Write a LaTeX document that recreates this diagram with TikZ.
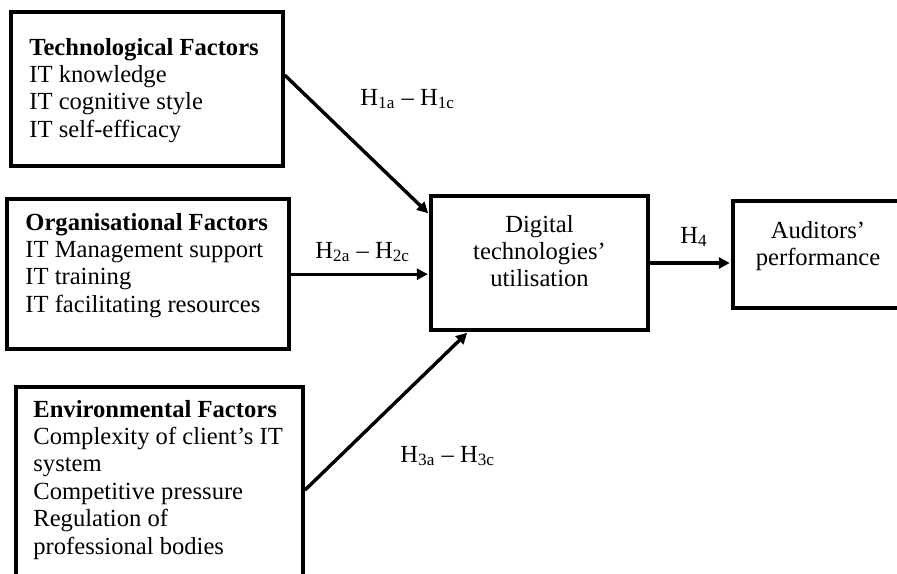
\documentclass[tikz,border=0pt]{standalone}
\usepackage{fontspec}
\setmainfont{Liberation Serif}
\usetikzlibrary{arrows.meta,calc,fit}
\begin{document}
\begin{tikzpicture}[x=0.5pt,y=-0.5pt,
  box/.style={draw, line width=1.8pt, inner sep=0pt},
  conn/.style={line width=1.7pt, -{Triangle[length=5.5pt,width=5.5pt]}, shorten >=0.7pt},
  txt/.style={inner sep=0pt, font=\fontsize{12.3}{13.7}\selectfont},
]
\useasboundingbox (0,0) rectangle (897,573);
\clip (0,0) rectangle (897,573);
% boxes
\node[box, fit={(11,12) (283,166)}] (tech) {};
\node[box, fit={(7,199) (289,349)}] (org) {};
\node[box, fit={(16,387) (303,600)}] (env) {};
\node[box, fit={(431,196) (648,330)}] (dtu) {};
\node[box, fit={(733,201) (905,308)}] (perf) {};
% texts
\node[txt, anchor=base west] (techtxt) at (29,55) {\begin{tabular}[t]{@{}l@{}}\textbf{Technological Factors}\\IT knowledge\\IT cognitive style\\IT self-efficacy\end{tabular}};
\node[txt, anchor=base west] (orgtxt) at (25,230) {\begin{tabular}[t]{@{}l@{}}\textbf{Organisational Factors}\\IT Management support\\IT training\\IT facilitating resources\end{tabular}};
\node[txt, anchor=base west] (envtxt) at (33,417) {\begin{tabular}[t]{@{}l@{}}\textbf{Environmental Factors}\\Complexity of client’s IT\\system\\Competitive pressure\\Regulation of\\professional bodies\end{tabular}};
\node[txt, anchor=base] (dtutxt) at (539.5,232) {\begin{tabular}[t]{@{}c@{}}Digital\\technologies’\\utilisation\end{tabular}};
\node[txt, anchor=base] (perftxt) at (818,238) {\begin{tabular}[t]{@{}c@{}}Auditors’\\performance\end{tabular}};
% labels
\node[txt, anchor=base west] (h1) at (360,105) {H\textsubscript{1a} -- H\textsubscript{1c}};
\node[txt, anchor=base west] (h2) at (315,258) {H\textsubscript{2a} -- H\textsubscript{2c}};
\node[txt, anchor=base west] (h3) at (400,462) {H\textsubscript{3a} -- H\textsubscript{3c}};
\node[txt, anchor=base west] (h4) at (680,243) {H\textsubscript{4}};
% connectors
\draw[conn] ($(tech.north east)+(0,65)$) -- ($(dtu.north west)+(0,20)$);
\draw[conn] ($(org.north east)+(0,77)$) coordinate (o2) -- (o2 -| dtu.west);
\draw[conn] ($(env.north east)+(0,105)$) -- ($(dtu.south west)+(39,0)$);
\draw[conn] (dtu.east) -- (dtu.east -| perf.west);
\end{tikzpicture}
\end{document}
